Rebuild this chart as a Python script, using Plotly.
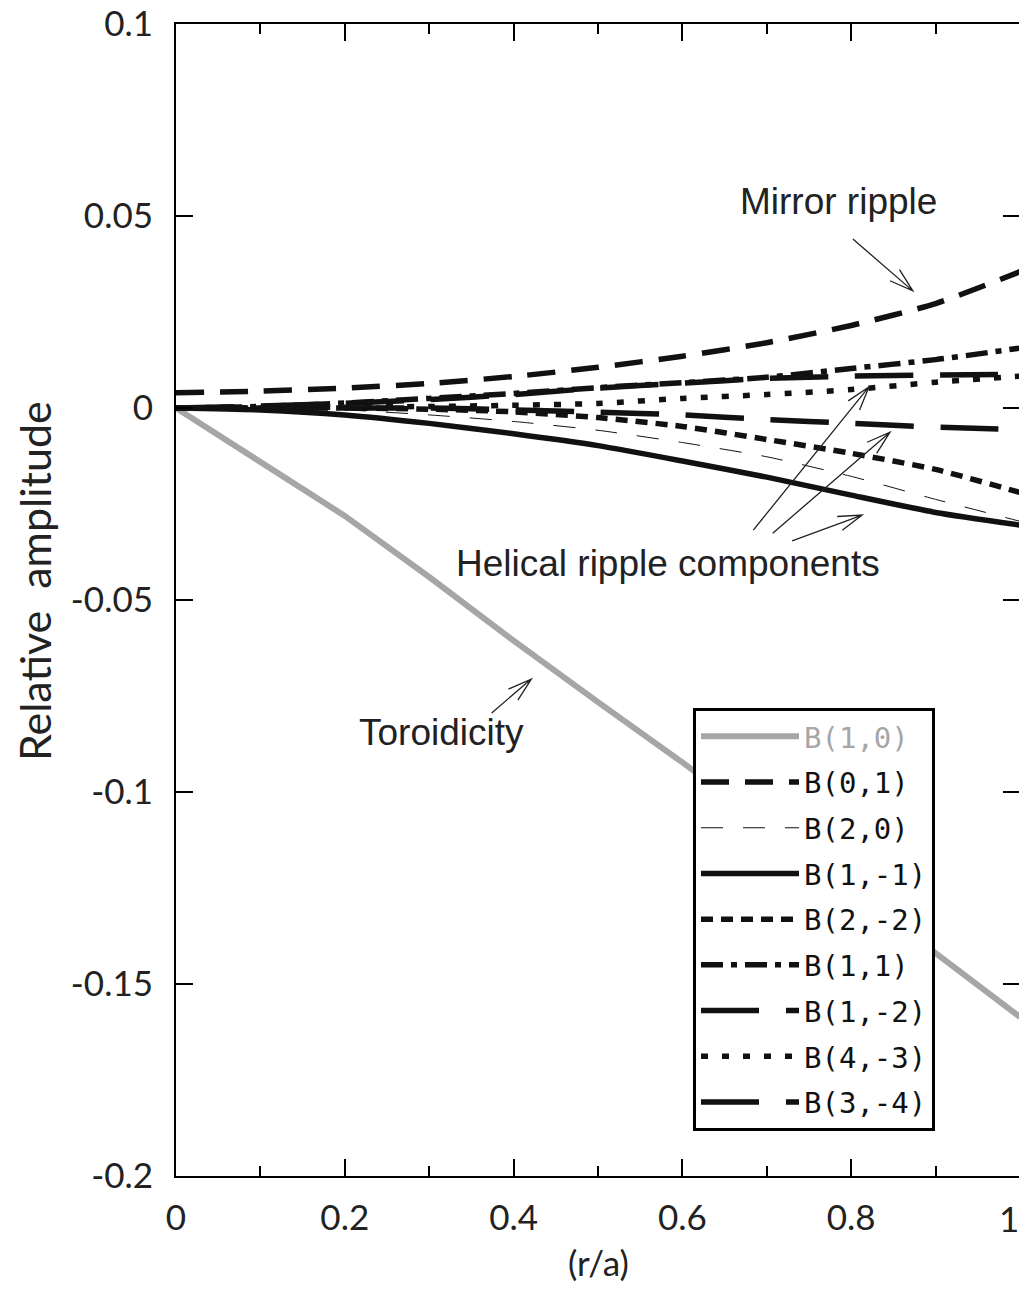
import math
import plotly.graph_objects as go

# ---------------- data ----------------
r_a = [0.0, 0.1, 0.2, 0.3, 0.4, 0.5, 0.6, 0.7, 0.8, 0.9, 1.0]

B_1_0 = [0.0, -0.0140, -0.0281, -0.0440, -0.0606, -0.0766, -0.0923, -0.1087, -0.1253, -0.1420, -0.1586]
B_0_1 = [0.0040, 0.0044, 0.0052, 0.0064, 0.0082, 0.0106, 0.0135, 0.0170, 0.0215, 0.0272, 0.0355]
B_2_0 = [0.0, 0.0, -0.0005, -0.0018, -0.0035, -0.0058, -0.0090, -0.0127, -0.0178, -0.0238, -0.0295]
B_1_m1 = [0.0, -0.0005, -0.0018, -0.0040, -0.0067, -0.0098, -0.0138, -0.0180, -0.0227, -0.0272, -0.0305]
B_2_m2 = [0.0, 0.0, 0.0, -0.0003, -0.0010, -0.0025, -0.0048, -0.0082, -0.0118, -0.0160, -0.0220]
B_1_1 = [0.0, 0.0004, 0.0013, 0.0025, 0.0038, 0.0053, 0.0066, 0.0080, 0.0103, 0.0126, 0.0156]
B_1_m2 = [0.0, 0.0, 0.0, 0.0, -0.0005, -0.0011, -0.0018, -0.0030, -0.0040, -0.0050, -0.0056]
B_4_m3 = [0.0, 0.0, 0.0002, 0.0004, 0.0007, 0.0012, 0.0025, 0.0035, 0.0048, 0.0067, 0.0083]
B_3_m4 = [0.0, 0.0005, 0.0012, 0.0022, 0.0035, 0.0052, 0.0065, 0.0077, 0.0083, 0.0086, 0.0088]

x_tickvals = [0, 0.2, 0.4, 0.6, 0.8, 1.0]
x_ticktext = ["0", "0.2", "0.4", "0.6", "0.8", "1"]
y_tickvals = [0.1, 0.05, 0, -0.05, -0.1, -0.15, -0.2]
y_ticktext = ["0.1", "0.05", "0", "-0.05", "-0.1", "-0.15", "-0.2"]

# ---------------- figure geometry ----------------
# the page body adds an 8px offset; compensate so the plot frame lands at
# (176..1020, 24..1176) in the window
W, H = 1019, 1275
ML, MR, MT, MB = 168, 7, 16, 107
XR = [0, 1]
YR = [-0.2, 0.1]
PW = W - ML - MR
PH = H - MT - MB

GRAY = "#a6a6a6"
BLACK = "#111111"
TXT = "#222222"

series = [
    ("B(1,0)", B_1_0, dict(color=GRAY, width=6, dash="solid"), True),
    ("B(0,1)", B_0_1, dict(color=BLACK, width=5.5, dash="28px,16px"), False),
    ("B(2,0)", B_2_0, dict(color=BLACK, width=1, dash="22px,20px"), False),
    ("B(1,-1)", B_1_m1, dict(color=BLACK, width=5.5, dash="solid"), False),
    ("B(2,-2)", B_2_m2, dict(color=BLACK, width=5.5, dash="12px,8px"), False),
    ("B(1,1)", B_1_1, dict(color=BLACK, width=5.5, dash="22px,8px,6px,8px"), False),
    ("B(1,-2)", B_1_m2, dict(color=BLACK, width=5.5, dash="58px,27px"), False),
    ("B(4,-3)", B_4_m3, dict(color=BLACK, width=5.5, dash="7px,14px"), False),
    ("B(3,-4)", B_3_m4, dict(color=BLACK, width=5.5, dash="58px,27px"), False),
]

fig = go.Figure()
for i, (name, ys, line, gray) in enumerate(series):
    label = f'<span style="color:{GRAY}">{name}</span>' if gray else name
    ln = dict(line) if gray else dict(line, shape="spline", smoothing=0.6)
    fig.add_trace(go.Scatter(x=r_a, y=ys, mode="lines", name=label, line=ln,
                             legendgroup=f"g{i}"))

# ---------------- annotations with open arrowheads ----------------
def to_px(x, y):
    px = (x - XR[0]) / (XR[1] - XR[0]) * PW
    py = (y - YR[0]) / (YR[1] - YR[0]) * PH
    return px, py

def to_data(px, py):
    return XR[0] + px / PW * (XR[1] - XR[0]), YR[0] + py / PH * (YR[1] - YR[0])

arrows = [
    (0.802, 0.0440, 0.873, 0.0305),
    (0.374, -0.0794, 0.421, -0.0706),
    (0.684, -0.0318, 0.821, 0.0055),
    (0.707, -0.0326, 0.846, -0.0063),
    (0.730, -0.0346, 0.813, -0.0279),
]
HEAD_LEN = 25
HEAD_ANG = math.radians(17)
shapes = []
for tx, ty, hx, hy in arrows:
    tpx, tpy = to_px(tx, ty)
    hpx, hpy = to_px(hx, hy)
    ang = math.atan2(hpy - tpy, hpx - tpx)
    pts = []
    for s in (1, -1):
        a = ang + math.pi + s * HEAD_ANG
        pts.append(to_data(hpx + HEAD_LEN * math.cos(a), hpy + HEAD_LEN * math.sin(a)))
    path = (f"M{tx},{ty} L{hx},{hy} M{pts[0][0]},{pts[0][1]} L{hx},{hy} L{pts[1][0]},{pts[1][1]}")
    shapes.append(dict(type="path", xref="x", yref="y", path=path,
                       line=dict(color=TXT, width=1.3)))

labels = [
    ("Mirror ripple", 0.7855, 0.0539),
    ("Helical ripple components", 0.583, -0.0404),
    ("Toroidicity", 0.3144, -0.0846),
]
annotations = [
    dict(text=t, x=x, y=y, xref="x", yref="y", showarrow=False,
         font=dict(family="Liberation Sans, Arial, sans-serif", size=37, color=TXT),
         xanchor="center", yanchor="middle")
    for t, x, y in labels
]
# axis titles
annotations.append(dict(text="Relative  amplitude", xref="paper", yref="paper",
                        x=-0.167, y=0.5165, textangle=-90, showarrow=False,
                        xanchor="center", yanchor="middle",
                        font=dict(family="Lato, sans-serif", size=43, color=TXT)))
annotations.append(dict(text="(r/a)", xref="paper", yref="paper",
                        x=0.5, y=-0.0747, showarrow=False,
                        xanchor="center", yanchor="middle",
                        font=dict(family="Lato, sans-serif", size=35, color=TXT)))

TICKFONT = dict(family="Lato, sans-serif", size=35, color=TXT)

# the last x tick label sits at the window edge: draw it right-aligned to its tick
x_ticktext_axis = x_ticktext[:-1] + [""]
annotations.append(dict(text=x_ticktext[-1], x=x_tickvals[-1], xref="x",
                        y=-0.0365, yref="paper", showarrow=False,
                        xanchor="right", yanchor="middle", xshift=1,
                        font=TICKFONT))

fig.update_layout(
    width=W, height=H,
    margin=dict(l=ML, r=MR, t=MT, b=MB, pad=0, autoexpand=False),
    paper_bgcolor="white", plot_bgcolor="white",
    showlegend=True,
    legend=dict(
        x=(693 - 176) / 844, y=(1176 - 708) / 1152, xanchor="left", yanchor="top",
        bgcolor="white", bordercolor="black", borderwidth=3,
        font=dict(family="DejaVu Sans Mono, monospace", size=29, color=BLACK),
        itemwidth=98, tracegroupgap=5, traceorder="grouped",
    ),
    shapes=shapes,
    annotations=annotations,
)

fig.update_xaxes(
    range=XR, showgrid=False, zeroline=False, automargin=False,
    showline=True, linecolor="black", linewidth=2, mirror="ticks",
    ticks="inside", ticklen=17, tickwidth=2, tickcolor="black",
    tickvals=x_tickvals, ticktext=x_ticktext_axis, tickfont=TICKFONT,
    ticklabelstandoff=10, ticklabeloverflow="allow",
    minor=dict(dtick=0.1, tick0=0, ticks="inside", ticklen=10, tickwidth=2,
               tickcolor="black", showgrid=False),
)
fig.update_yaxes(
    range=YR, showgrid=False, zeroline=False, automargin=False,
    showline=True, linecolor="black", linewidth=2, mirror="ticks",
    ticks="inside", ticklen=17, tickwidth=2, tickcolor="black",
    tickvals=y_tickvals, ticktext=y_ticktext, tickfont=TICKFONT,
    ticklabelstandoff=14, ticklabeloverflow="allow",
)

fig.write_html("out.html")
